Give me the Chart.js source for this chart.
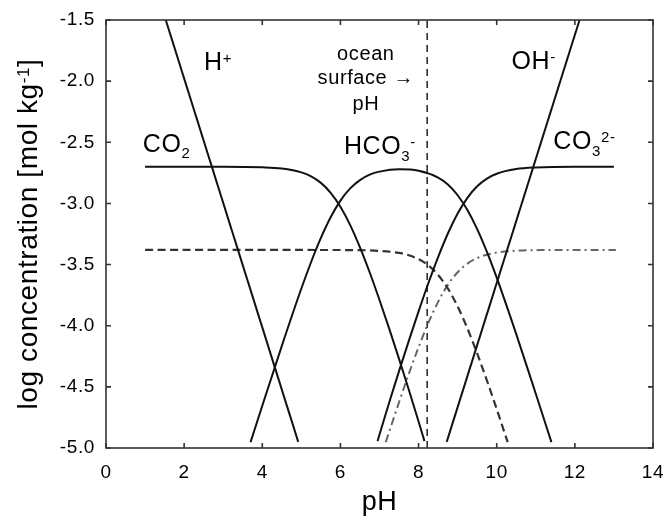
<!DOCTYPE html>
<html>
<head>
<meta charset="utf-8">
<title>Carbonate species vs pH</title>
<script src="https://cdn.jsdelivr.net/npm/chart.js@4.4.1/dist/chart.umd.min.js"></script>
<style>
  html, body { margin: 0; padding: 0; background: #fff; }
  #chart { display: block; }
</style>
</head>
<body>
<canvas id="chart" width="665" height="520"></canvas>
<script>
// Values: pH vs log concentration
const phCO2 = [1.0, 2.0, 3.0, 4.0, 4.5, 5.0, 5.25, 5.5, 5.75, 6.0, 6.25, 6.5, 6.75, 7.0, 7.25, 7.5, 7.75, 8.0, 8.15];
const logCO2 = [-2.70, -2.70, -2.70, -2.705, -2.715, -2.746, -2.779, -2.832, -2.913, -3.027, -3.177, -3.359, -3.565, -3.790, -4.026, -4.271, -4.524, -4.783, -4.944];

const phHCO3 = [3.7, 4.0, 4.5, 5.0, 5.25, 5.5, 5.75, 6.0, 6.25, 6.5, 6.75, 7.0, 7.5, 8.0, 8.5, 8.75, 9.0, 9.25, 9.5, 9.75, 10.0, 10.5, 11.0, 11.4];
const logHCO3 = [-4.952, -4.655, -4.165, -3.696, -3.479, -3.282, -3.113, -2.977, -2.877, -2.809, -2.765, -2.740, -2.721, -2.733, -2.789, -2.846, -2.933, -3.054, -3.210, -3.397, -3.607, -4.069, -4.556, -4.952];

const phCO3 = [6.95, 7.0, 7.25, 7.5, 7.75, 8.0, 8.25, 8.5, 8.75, 9.0, 9.25, 9.5, 9.75, 10.0, 10.5, 11.0, 12.0, 13.0];
const logCO3 = [-4.944, -4.890, -4.626, -4.371, -4.124, -3.883, -3.653, -3.439, -3.246, -3.083, -2.954, -2.860, -2.797, -2.757, -2.719, -2.706, -2.70, -2.70];

// dashed curve (falls off above pH 8)
const phDashed = [1.0, 6.0, 7.0, 7.5, 7.75, 8.0, 8.25, 8.5, 8.75, 9.0, 9.25, 9.5, 9.75, 10.0, 10.28];
const logDashed = [-3.38, -3.381, -3.388, -3.405, -3.424, -3.456, -3.507, -3.585, -3.696, -3.843, -4.022, -4.227, -4.449, -4.682, -4.952];

// dash-dot curve (rises from pH 7)
const phDashDot = [7.16, 7.5, 7.75, 8.0, 8.25, 8.5, 8.75, 9.0, 9.25, 9.5, 9.75, 10.0, 10.5, 11.0, 13.05];
const logDashDot = [-4.952, -4.626, -4.394, -4.176, -3.977, -3.805, -3.666, -3.563, -3.492, -3.447, -3.419, -3.402, -3.387, -3.382, -3.38];

const phH = [1.53, 4.92];
const logH = [-1.5, -4.95];
const phOH = [8.72, 12.12];
const logOH = [-4.95, -1.5];

const oceanPH = 8.22;

const xTicks = [0, 2, 4, 6, 8, 10, 12, 14];
const yTicks = [-5.0, -4.5, -4.0, -3.5, -3.0, -2.5, -2.0, -1.5];

const FONT = '"Liberation Sans", Arial, sans-serif';
Chart.defaults.font.family = FONT;

function toPoints(xs, ys) {
    return xs.map((x, i) => ({ x: x, y: ys[i] }));
}

// slightly wider text, like the original export
const textSpacing = {
    id: 'textSpacing',
    beforeDraw(chart) {
        chart.ctx.letterSpacing = '0.6px';
    }
};

// Frame with inward tick marks on all four sides
const frameTicks = {
    id: 'frameTicks',
    afterDatasetsDraw(chart) {
        const { ctx, chartArea: a, scales: { x, y } } = chart;
        ctx.save();
        ctx.strokeStyle = '#333';
        ctx.lineWidth = 1.6;
        ctx.strokeRect(a.left, a.top, a.right - a.left, a.bottom - a.top);
        ctx.beginPath();
        xTicks.forEach(v => {
            const px = x.getPixelForValue(v);
            ctx.moveTo(px, a.bottom); ctx.lineTo(px, a.bottom - 5);
            ctx.moveTo(px, a.top); ctx.lineTo(px, a.top + 5);
        });
        yTicks.forEach(v => {
            const py = y.getPixelForValue(v);
            ctx.moveTo(a.left, py); ctx.lineTo(a.left + 5, py);
            ctx.moveTo(a.right, py); ctx.lineTo(a.right - 5, py);
        });
        ctx.stroke();
        ctx.restore();
    }
};

// Text with sub/superscripts
function drawRich(ctx, x, y, parts, size) {
    let cx = x;
    parts.forEach(([text, kind]) => {
        const s = kind ? Math.round(size * 0.6) : size;
        const dy = kind === 'sub' ? size * 0.26 : kind === 'sup' ? -size * 0.3 : 0;
        ctx.font = s + 'px ' + FONT;
        ctx.fillText(text, cx, y + dy);
        cx += ctx.measureText(text).width;
    });
}

// Species names, the ocean note and the y axis title
const speciesText = {
    id: 'speciesText',
    afterDatasetsDraw(chart) {
        const { ctx, chartArea: a, scales: { x, y } } = chart;
        ctx.save();
        ctx.fillStyle = '#000';
        ctx.textBaseline = 'alphabetic';
        ctx.textAlign = 'left';
        drawRich(ctx, x.getPixelForValue(2.51), y.getPixelForValue(-1.909), [['H'], ['+', 'sup']], 25);
        drawRich(ctx, x.getPixelForValue(0.94), y.getPixelForValue(-2.577), [['CO'], ['2', 'sub']], 25);
        drawRich(ctx, x.getPixelForValue(10.38), y.getPixelForValue(-1.903), [['OH'], ['-', 'sup']], 25);
        drawRich(ctx, x.getPixelForValue(6.09), y.getPixelForValue(-2.598), [['HCO'], ['3', 'sub'], ['-', 'sup']], 25);
        drawRich(ctx, x.getPixelForValue(11.45), y.getPixelForValue(-2.557), [['CO'], ['3', 'sub'], ['2-', 'sup']], 25);

        ctx.textAlign = 'center';
        ctx.font = '20px ' + FONT;
        const cx = x.getPixelForValue(6.65);
        ctx.fillText('ocean', cx, y.getPixelForValue(-1.827));
        ctx.fillText('surface \u2192', cx, y.getPixelForValue(-2.023));
        ctx.fillText('pH', cx, y.getPixelForValue(-2.236));

        // y axis title, rotated
        const parts = [['log concentration [mol kg'], ['-1', 'sup'], [']']];
        let w = 0;
        parts.forEach(([t, k]) => {
            ctx.font = (k ? 17 : 28) + 'px ' + FONT;
            w += ctx.measureText(t).width;
        });
        ctx.translate(37, (a.top + a.bottom) / 2);
        ctx.rotate(-Math.PI / 2);
        ctx.textAlign = 'left';
        drawRich(ctx, -w / 2, 0, parts, 28);
        ctx.restore();
    }
};

const solid = { borderColor: '#111', borderWidth: 2, cubicInterpolationMode: 'monotone' };
const straight = { borderColor: '#111', borderWidth: 2, tension: 0 };

new Chart(document.getElementById('chart'), {
    type: 'line',
    data: {
        datasets: [
            { label: 'H+', data: toPoints(phH, logH), ...straight },
            { label: 'OH-', data: toPoints(phOH, logOH), ...straight },
            { label: 'CO2', data: toPoints(phCO2, logCO2), ...solid },
            { label: 'HCO3-', data: toPoints(phHCO3, logHCO3), ...solid },
            { label: 'CO3 2-', data: toPoints(phCO3, logCO3), ...solid },
            {
                label: 'dashed', data: toPoints(phDashed, logDashed),
                borderColor: '#333', borderWidth: 2.2, borderDash: [8, 4.5], cubicInterpolationMode: 'monotone'
            },
            {
                label: 'dash-dot', data: toPoints(phDashDot, logDashDot),
                borderColor: '#666', borderWidth: 2, borderDash: [8, 4, 2, 4], cubicInterpolationMode: 'monotone'
            },
            {
                label: 'ocean surface pH', data: [{ x: oceanPH, y: -5 }, { x: oceanPH, y: -1.5 }],
                borderColor: '#111', borderWidth: 1.4, borderDash: [7, 5], tension: 0
            }
        ]
    },
    options: {
        responsive: false,
        animation: false,
        devicePixelRatio: 1,
        layout: { padding: { top: 20, right: 12, left: 0, bottom: 0 } },
        elements: { point: { radius: 0 } },
        plugins: { legend: { display: false }, tooltip: { enabled: false } },
        scales: {
            x: {
                type: 'linear', min: 0, max: 14,
                afterFit: s => { s.height = 72; s.paddingLeft = 0; s.paddingRight = 0; },
                afterBuildTicks: s => { s.ticks = xTicks.map(v => ({ value: v })); },
                grid: { display: false, drawTicks: false },
                border: { display: false },
                ticks: { color: '#000', font: { size: 19 }, padding: 13, maxRotation: 0 },
                title: { display: true, text: 'pH', color: '#000', font: { size: 27 }, padding: { top: 0, bottom: 1 } }
            },
            y: {
                type: 'linear', min: -5, max: -1.5,
                afterFit: s => { s.width = 106; s.paddingTop = 0; s.paddingBottom = 0; },
                afterBuildTicks: s => { s.ticks = yTicks.map(v => ({ value: v })); },
                grid: { display: false, drawTicks: false },
                border: { display: false },
                ticks: { color: '#000', font: { size: 19 }, padding: 11, callback: v => v.toFixed(1) },
                title: { display: false }
            }
        }
    },
    plugins: [textSpacing, frameTicks, speciesText]
});
</script>
</body>
</html>
